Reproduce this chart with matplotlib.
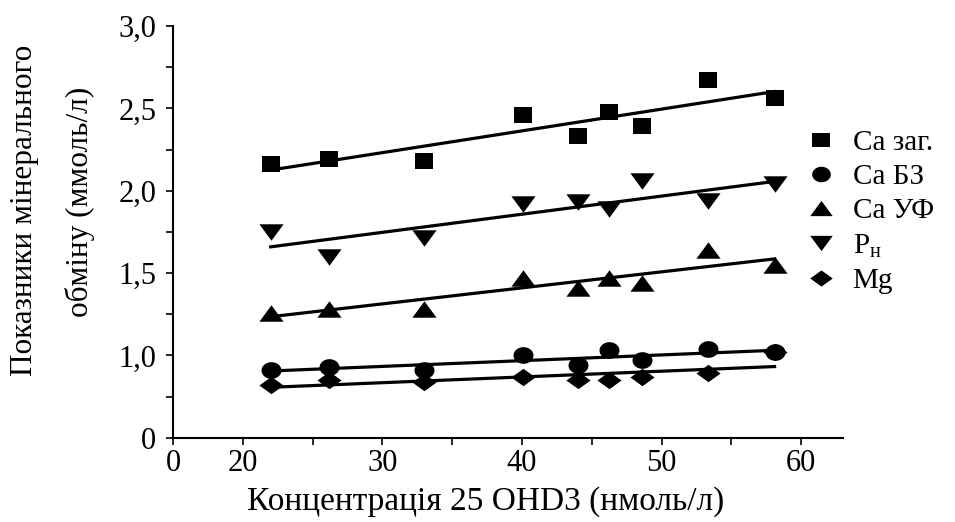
import numpy as np
import matplotlib
matplotlib.use("Agg")
import matplotlib.pyplot as plt

plt.rcParams['font.family'] = ['Liberation Serif', 'DejaVu Serif']
plt.rcParams['mathtext.fontset'] = 'custom'
plt.rcParams['mathtext.rm'] = 'Liberation Serif'

# concentration of 25 OHD3 (nmol/l), shared by all series
conc = [22.0, 26.2, 33.0, 40.1, 44.0, 46.2, 48.6, 53.3, 58.1]

ca_total = [2.16, 2.19, 2.18, 2.46, 2.33, 2.48, 2.39, 2.67, 2.56]
ca_bz = [0.91, 0.93, 0.91, 1.00, 0.94, 1.03, 0.97, 1.04, 1.02]
ca_uf = [1.26, 1.28, 1.28, 1.47, 1.41, 1.47, 1.44, 1.64, 1.55]
p_n = [1.75, 1.60, 1.71, 1.92, 1.93, 1.89, 2.06, 1.94, 2.04]
mg = [0.82, 0.85, 0.84, 0.87, 0.85, 0.85, 0.87, 0.89, 1.02]

series_labels = ['Ca заг.', 'Ca БЗ', 'Ca УФ', r'P$_{\mathregular{н}}$', 'Mg']

# axis is broken: bottom/left ends are labelled "0"
y_ticks = [0.5, 1.0, 1.5, 2.0, 2.5, 3.0]
y_tick_labels = ['0', '1,0', '1,5', '2,0', '2,5', '3,0']
x_ticks = [15, 20, 30, 40, 50, 60]
x_tick_labels = ['0', '20', '30', '40', '50', '60']

# markers in the source are a bit wider than tall
t = np.linspace(0, 2 * np.pi, 60)
m_square = [(-1.18, -1), (1.18, -1), (1.18, 1), (-1.18, 1), (-1.18, -1)]
m_circle = list(zip(1.2 * np.cos(t), np.sin(t)))
m_up = [(-1, -0.68), (1, -0.68), (0, 0.68), (-1, -0.68)]
m_down = [(-1, 0.68), (1, 0.68), (0, -0.68), (-1, 0.68)]
m_diamond = [(-1, 0), (0, 0.72), (1, 0), (0, -0.72), (-1, 0)]
styles = [(m_square, 13.4), (m_circle, 14.4), (m_up, 17.4), (m_down, 17.4), (m_diamond, 17.4)]
all_series = [ca_total, ca_bz, ca_uf, p_n, mg]

fig = plt.figure(figsize=(9.55, 5.22), dpi=100)
ax = fig.add_axes([173 / 955, (522 - 437.7) / 522, (843 - 173) / 955, (437.7 - 26) / 522])

x = np.array(conc)
for vals, (mk, ms), lab in zip(all_series, styles, series_labels):
    ax.plot(x, vals, linestyle='none', marker=mk, ms=ms, color='black',
            mew=0, label=lab, clip_on=False, zorder=3)
    k, b = np.polyfit(x, vals, 1)
    xx = np.array([x.min(), x.max()])
    ax.plot(xx, k * xx + b, color='black', lw=2.3, zorder=2)

ax.set_xlim(15, 63)
ax.set_ylim(0.5, 3.0)
ax.set_xticks(x_ticks)
ax.set_xticklabels(x_tick_labels)
ax.set_xticks([25, 35, 45, 55], minor=True)
ax.set_yticks(y_ticks)
ax.set_yticklabels(y_tick_labels)
ax.set_yticks([0.75, 1.25, 1.75, 2.25, 2.75], minor=True)

for s in ['top', 'right']:
    ax.spines[s].set_visible(False)
for s in ['left', 'bottom']:
    ax.spines[s].set_linewidth(1.5)
ax.tick_params(which='both', direction='out', length=5, width=1.2, labelsize=22)
ax.tick_params(axis='y', pad=7)
ax.tick_params(axis='x', pad=3)

fig.text(486 / 955, 1 - 502 / 522, 'Концентрація 25 OHD3 (нмоль/л)',
         ha='center', va='center', fontsize=24)
fig.text(25 / 955, 1 - 210 / 522, 'Показники мінерального',
         ha='center', va='center', rotation=90, fontsize=22.5)
fig.text(80 / 955, 1 - 202 / 522, 'обміну (ммоль/л)',
         ha='center', va='center', rotation=90, fontsize=22.5)

ax.legend(loc='upper left', bbox_to_anchor=(806 / 955, 1 - 130 / 522),
          bbox_transform=fig.transFigure, frameon=False, fontsize=21,
          handlelength=1.0, handletextpad=0.6, borderpad=0, borderaxespad=0,
          labelspacing=0.26, markerscale=0.93, numpoints=1)

fig.savefig('out.png', dpi=100)
